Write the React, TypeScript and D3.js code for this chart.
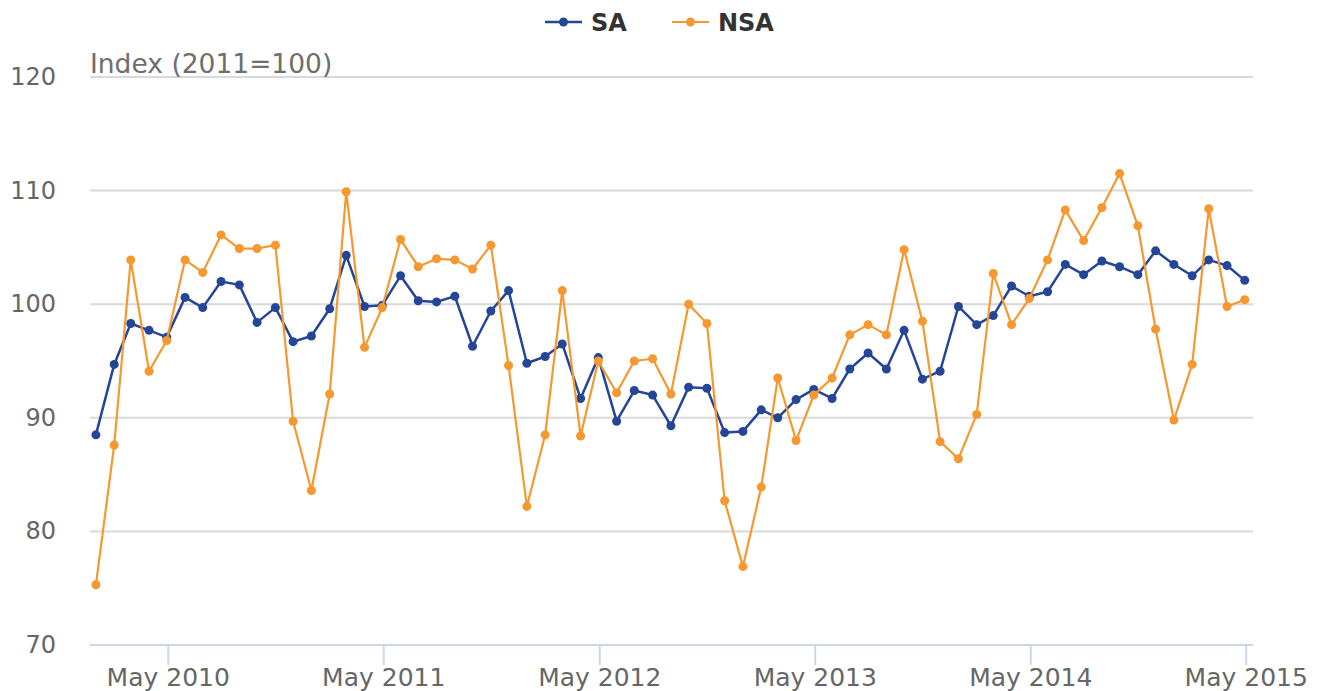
import React from "react";
import * as d3 from "d3";

// monthly series, Jan 2010 .. May 2015
const START = { year: 2010, month: 0 };
const SA = [
  88.5, 94.7, 98.3, 97.7, 97.1, 100.6, 99.7, 102.0, 101.7, 98.4, 99.7, 96.7,
  97.2, 99.6, 104.3, 99.8, 99.9, 102.5, 100.3, 100.2, 100.7, 96.3, 99.4, 101.2,
  94.8, 95.4, 96.5, 91.7, 95.3, 89.7, 92.4, 92.0, 89.3, 92.7, 92.6, 88.7,
  88.8, 90.7, 90.0, 91.6, 92.5, 91.7, 94.3, 95.7, 94.3, 97.7, 93.4, 94.1,
  99.8, 98.2, 99.0, 101.6, 100.7, 101.1, 103.5, 102.6, 103.8, 103.3, 102.6, 104.7,
  103.5, 102.5, 103.9, 103.4, 102.1,
];
const NSA = [
  75.3, 87.6, 103.9, 94.1, 96.8, 103.9, 102.8, 106.1, 104.9, 104.9, 105.2, 89.7,
  83.6, 92.1, 109.9, 96.2, 99.7, 105.7, 103.3, 104.0, 103.9, 103.1, 105.2, 94.6,
  82.2, 88.5, 101.2, 88.4, 95.0, 92.2, 95.0, 95.2, 92.1, 100.0, 98.3, 82.7,
  76.9, 83.9, 93.5, 88.0, 92.0, 93.5, 97.3, 98.2, 97.3, 104.8, 98.5, 87.9,
  86.4, 90.3, 102.7, 98.2, 100.5, 103.9, 108.3, 105.6, 108.5, 111.5, 106.9, 97.8,
  89.8, 94.7, 108.4, 99.8, 100.4,
];
const Y_TICKS = [70, 80, 90, 100, 110, 120];
const X_TICK_YEARS = [2010, 2011, 2012, 2013, 2014, 2015];
const SERIES = [
  { name: "SA", values: SA, color: "#254596", width: 2.5 },
  { name: "NSA", values: NSA, color: "#f5982f", width: 2.2 },
];

const W = 1318;
const H = 691;
const LEFT = 90;
const RIGHT = 1253;
const TOP = 77;
const BOTTOM = 645;
const FONT = "'DejaVu Sans', sans-serif";

export default function App() {
  const dates = SA.map((_, i) => new Date(Date.UTC(START.year, START.month + i, 1)));

  const x = d3
    .scaleUtc()
    .domain([new Date(Date.UTC(2009, 11, 22)), new Date(Date.UTC(2015, 4, 15))])
    .range([LEFT, RIGHT]);
  const y = d3.scaleLinear().domain([70, 120]).range([BOTTOM, TOP]);

  const line = d3
    .line<number>()
    .x((_, i) => x(dates[i]))
    .y((d) => y(d));

  const xTicks = X_TICK_YEARS.map((yr) => new Date(Date.UTC(yr, 4, 1)));

  return (
    <svg
      width={W}
      height={H}
      style={{ position: "absolute", left: 0, top: 0, background: "#fff" }}
      fontFamily={FONT}
    >
      {/* grid */}
      <g>
        {Y_TICKS.filter((t) => t !== 70).map((t) => (
          <line key={t} x1={LEFT} x2={RIGHT} y1={y(t)} y2={y(t)} stroke="#d9d9d9" strokeWidth={2} />
        ))}
      </g>
      {/* y labels */}
      <g fill="#666" fontSize={24} textAnchor="end">
        {Y_TICKS.map((t) => (
          <text key={t} x={56} y={y(t) + 8}>
            {t}
          </text>
        ))}
      </g>
      <text x={LEFT} y={73} fill="#6e6e6e" fontSize={26.5}>
        Index (2011=100)
      </text>
      {/* x axis */}
      <line x1={LEFT} x2={RIGHT} y1={BOTTOM} y2={BOTTOM} stroke="#ccd6eb" strokeWidth={2} />
      <g>
        {xTicks.map((d) => (
          <g key={d.toISOString()} transform={`translate(${x(d) + 1.5},0)`}>
            <line y1={BOTTOM} y2={BOTTOM + 20} stroke="#ccd6eb" strokeWidth={2} />
            <text y={BOTTOM + 41} textAnchor="middle" fill="#666" fontSize={25}>
              {d3.utcFormat("%b %Y")(d)}
            </text>
          </g>
        ))}
      </g>
      {/* series */}
      {SERIES.map((s) => (
        <g key={s.name}>
          <path d={line(s.values) ?? ""} fill="none" stroke={s.color} strokeWidth={s.width} strokeLinejoin="round" />
          {s.values.map((v, i) => (
            <circle key={i} cx={x(dates[i])} cy={y(v)} r={4.5} fill={s.color} />
          ))}
        </g>
      ))}
      {/* legend */}
      <g>
        {SERIES.map((s, i) => {
          const lx = 545 + i * 127;
          return (
            <g key={s.name}>
              <line x1={lx} x2={lx + 37} y1={22} y2={22} stroke={s.color} strokeWidth={s.width} />
              <circle cx={lx + 18.5} cy={22} r={4.5} fill={s.color} />
              <text x={lx + 46} y={31} fontSize={24} fontWeight="bold" fill="#333">
                {s.name}
              </text>
            </g>
          );
        })}
      </g>
    </svg>
  );
}
